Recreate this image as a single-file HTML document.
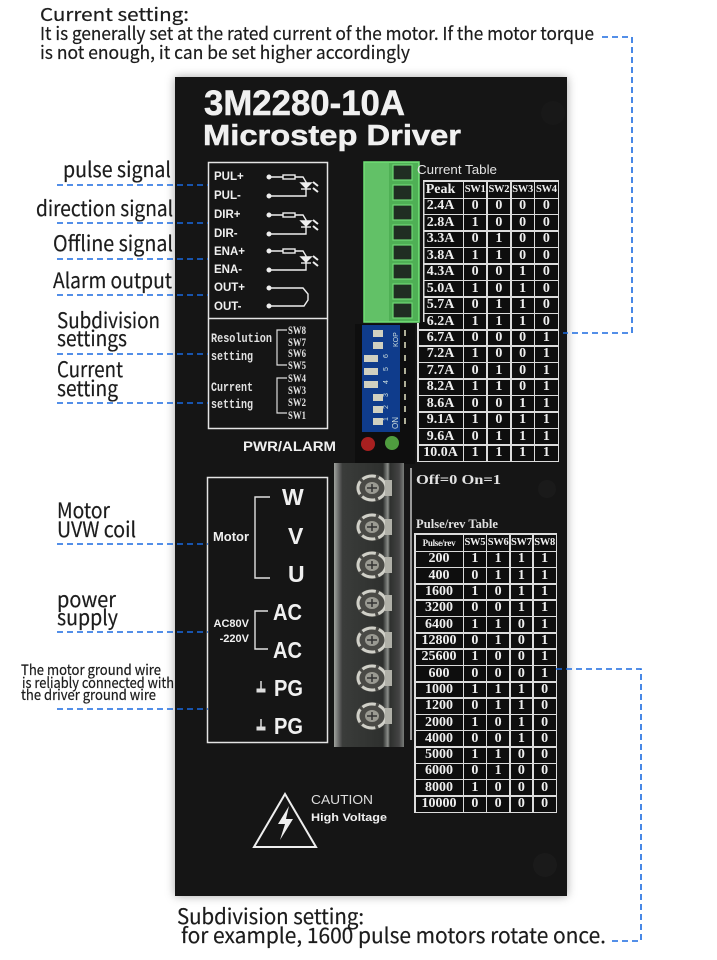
<!DOCTYPE html>
<html><head><meta charset="utf-8"><style>
html,body{margin:0;padding:0;background:#fff}
body{position:relative;width:717px;height:960px;overflow:hidden}
#panel{position:absolute;left:175px;top:77px;width:392px;height:819px;background:#151515;box-shadow:0 0 9px rgba(0,0,0,.35)}
.t{position:absolute;display:grid;background:#dcdcdc;padding:1.5px;gap:1.5px;box-sizing:border-box}
.t b{background:#0e0e0e;color:#efefef;font:bold 14px "Liberation Serif",serif;display:flex;align-items:center;justify-content:center;overflow:hidden;white-space:nowrap}
#ct{left:417px;top:180px;width:142px;height:282px;grid-template-columns:44px repeat(4,1fr);grid-template-rows:16px repeat(16,1fr)}
#pt{left:414px;top:533px;width:143px;height:280px;grid-template-columns:47px repeat(4,1fr);grid-template-rows:16px repeat(16,1fr)}
.t b.h{font-size:10.500px;letter-spacing:-.3px}
svg{position:absolute;left:0;top:0}
.n{font-family:"Noto Sans CJK SC","Liberation Sans",sans-serif;fill:#1c1c1c;stroke:#1c1c1c;stroke-width:.2}
.w{font-family:"Liberation Sans",sans-serif;font-weight:bold;fill:#f0f0f0}
.s{font-family:"Liberation Serif",serif;font-weight:bold;fill:#e2e2e2}
.d{stroke:#1a6ae0;stroke-width:1.6;stroke-dasharray:6 4;fill:none}
</style></head><body>
<div id="panel"></div>
<div class="t" id="ct">
<b>Peak</b><b class="h">SW1</b><b class="h">SW2</b><b class="h">SW3</b><b class="h">SW4</b>
<b>2.4A</b><b>0</b><b>0</b><b>0</b><b>0</b>
<b>2.8A</b><b>1</b><b>0</b><b>0</b><b>0</b>
<b>3.3A</b><b>0</b><b>1</b><b>0</b><b>0</b>
<b>3.8A</b><b>1</b><b>1</b><b>0</b><b>0</b>
<b>4.3A</b><b>0</b><b>0</b><b>1</b><b>0</b>
<b>5.0A</b><b>1</b><b>0</b><b>1</b><b>0</b>
<b>5.7A</b><b>0</b><b>1</b><b>1</b><b>0</b>
<b>6.2A</b><b>1</b><b>1</b><b>1</b><b>0</b>
<b>6.7A</b><b>0</b><b>0</b><b>0</b><b>1</b>
<b>7.2A</b><b>1</b><b>0</b><b>0</b><b>1</b>
<b>7.7A</b><b>0</b><b>1</b><b>0</b><b>1</b>
<b>8.2A</b><b>1</b><b>1</b><b>0</b><b>1</b>
<b>8.6A</b><b>0</b><b>0</b><b>1</b><b>1</b>
<b>9.1A</b><b>1</b><b>0</b><b>1</b><b>1</b>
<b>9.6A</b><b>0</b><b>1</b><b>1</b><b>1</b>
<b>10.0A</b><b>1</b><b>1</b><b>1</b><b>1</b>
</div>
<div class="t" id="pt">
<b class="h" style="font-size:9px">Pulse/rev</b><b class="h">SW5</b><b class="h">SW6</b><b class="h">SW7</b><b class="h">SW8</b>
<b>200</b><b>1</b><b>1</b><b>1</b><b>1</b>
<b>400</b><b>0</b><b>1</b><b>1</b><b>1</b>
<b>1600</b><b>1</b><b>0</b><b>1</b><b>1</b>
<b>3200</b><b>0</b><b>0</b><b>1</b><b>1</b>
<b>6400</b><b>1</b><b>1</b><b>0</b><b>1</b>
<b>12800</b><b>0</b><b>1</b><b>0</b><b>1</b>
<b>25600</b><b>1</b><b>0</b><b>0</b><b>1</b>
<b>600</b><b>0</b><b>0</b><b>0</b><b>1</b>
<b>1000</b><b>1</b><b>1</b><b>1</b><b>0</b>
<b>1200</b><b>0</b><b>1</b><b>1</b><b>0</b>
<b>2000</b><b>1</b><b>0</b><b>1</b><b>0</b>
<b>4000</b><b>0</b><b>0</b><b>1</b><b>0</b>
<b>5000</b><b>1</b><b>1</b><b>0</b><b>0</b>
<b>6000</b><b>0</b><b>1</b><b>0</b><b>0</b>
<b>8000</b><b>1</b><b>0</b><b>0</b><b>0</b>
<b>10000</b><b>0</b><b>0</b><b>0</b><b>0</b>
</div>
<svg width="717" height="960" viewBox="0 0 717 960">
<defs>
<g id="opto" fill="none" stroke="#eee" stroke-width="1.4">
<circle cx="269" cy="0" r="1.8" fill="#eee"/><circle cx="269" cy="19" r="1.8" fill="#eee"/>
<path d="M271 0H283M295 0H303L306 5V19H271"/><rect x="283" y="-2" width="12" height="4"/>
<path d="M301 6h10l-5 5z" fill="#eee"/><path d="M301 12h10" />
<path d="M313 5l5 4M313 11l5 4" stroke-width="2"/>
</g>
<g id="screw">
<ellipse cx="0" cy="0" rx="16" ry="14" fill="#4a4a46"/>
<ellipse cx="0" cy="0" rx="14" ry="12" fill="none" stroke="#d0d0c8" stroke-width="3" stroke-dasharray="14 3"/>
<ellipse cx="0" cy="0" rx="7" ry="6" fill="#9a9a92"/>
<path d="M-5 0H5M0 -4V4" stroke="#333" stroke-width="1.5"/>
<rect x="13" y="-8" width="7" height="16" fill="#b0b0a8"/>
</g>
<g id="gnd" stroke="#ddd" fill="#ddd"><path d="M0 -6V2" stroke-width="1.5"/><path d="M-4 2h8v3h-8z"/></g>
<linearGradient id="tb" x1="0" x2="1" y1="0" y2="0">
<stop offset="0" stop-color="#a0a39e"/><stop offset=".07" stop-color="#666"/><stop offset=".12" stop-color="#3a3c3a"/><stop offset=".7" stop-color="#2e302e"/><stop offset=".77" stop-color="#8d908c"/><stop offset=".8" stop-color="#2e302e"/><stop offset=".93" stop-color="#444"/><stop offset="1" stop-color="#7a7d7a"/>
</linearGradient>
</defs>

<!-- top text -->
<text class="n" x="40" y="21" font-size="18" textLength="149" lengthAdjust="spacingAndGlyphs">Current setting:</text>
<text class="n" x="40" y="40" font-size="18" textLength="554" lengthAdjust="spacingAndGlyphs">It is generally set at the rated current of the motor. If the motor torque</text>
<text class="n" x="40" y="59" font-size="18" textLength="370" lengthAdjust="spacingAndGlyphs">is not enough, it can be set higher accordingly</text>

<!-- left labels -->
<text class="n" x="63" y="177" font-size="21" textLength="108" lengthAdjust="spacingAndGlyphs">pulse signal</text>
<text class="n" x="36" y="216" font-size="21" textLength="137" lengthAdjust="spacingAndGlyphs">direction signal</text>
<text class="n" x="53" y="251" font-size="21" textLength="120" lengthAdjust="spacingAndGlyphs">Offline signal</text>
<text class="n" x="53" y="288" font-size="21" textLength="119" lengthAdjust="spacingAndGlyphs">Alarm output</text>
<text class="n" x="57" y="328" font-size="21" textLength="103" lengthAdjust="spacingAndGlyphs">Subdivision</text>
<text class="n" x="57" y="346" font-size="21" textLength="70" lengthAdjust="spacingAndGlyphs">settings</text>
<text class="n" x="57" y="377" font-size="21" textLength="66" lengthAdjust="spacingAndGlyphs">Current</text>
<text class="n" x="57" y="396" font-size="21" textLength="61" lengthAdjust="spacingAndGlyphs">setting</text>
<text class="n" x="57" y="518" font-size="21" textLength="53" lengthAdjust="spacingAndGlyphs">Motor</text>
<text class="n" x="57" y="537" font-size="21" textLength="79" lengthAdjust="spacingAndGlyphs">UVW coil</text>
<text class="n" x="57" y="607" font-size="21" textLength="59" lengthAdjust="spacingAndGlyphs">power</text>
<text class="n" x="57" y="625" font-size="21" textLength="61" lengthAdjust="spacingAndGlyphs">supply</text>
<text class="n" x="21" y="675" font-size="14.500" textLength="140" lengthAdjust="spacingAndGlyphs">The motor ground wire</text>
<text class="n" x="22" y="688" font-size="14.500" textLength="152" lengthAdjust="spacingAndGlyphs">is reliably connected with</text>
<text class="n" x="21" y="700" font-size="14.500" textLength="135" lengthAdjust="spacingAndGlyphs">the driver ground wire</text>

<!-- bottom text -->
<text class="n" x="177" y="924" font-size="21" textLength="187" lengthAdjust="spacingAndGlyphs">Subdivision setting:</text>
<text class="n" x="181" y="943" font-size="21" textLength="425" lengthAdjust="spacingAndGlyphs">for example, 1600 pulse motors rotate once.</text>

<!-- panel title -->
<text class="w" x="204" y="115" font-size="35" textLength="201" lengthAdjust="spacingAndGlyphs" stroke="#f0f0f0" stroke-width=".5">3M2280-10A</text>
<text class="w" x="203" y="145" font-size="29" textLength="258" lengthAdjust="spacingAndGlyphs" stroke="#f0f0f0" stroke-width=".5">Microstep Driver</text>

<!-- mounting holes -->
<circle cx="553" cy="113" r="12" fill="#181818"/><circle cx="547" cy="489" r="9" fill="#1a1a1a"/><circle cx="545" cy="865" r="12" fill="#1a1a1a"/>

<!-- box 1 -->
<rect x="208.500" y="162.500" width="119" height="156" fill="none" stroke="#e4e4e4" stroke-width="1.5"/>
<g class="w" font-size="11.500">
<text x="214" y="180">PUL+</text><text x="214" y="199">PUL-</text>
<text x="214" y="218">DIR+</text><text x="214" y="237">DIR-</text>
<text x="214" y="255">ENA+</text><text x="214" y="273">ENA-</text>
<text x="214" y="291">OUT+</text><text x="214" y="310">OUT-</text>
</g>
<use href="#opto" x="0" y="177"/><use href="#opto" x="0" y="215"/><use href="#opto" x="0" y="251"/>
<g fill="none" stroke="#eee" stroke-width="1.4"><circle cx="269" cy="288" r="1.8" fill="#eee"/><circle cx="269" cy="306" r="1.8" fill="#eee"/><path d="M271 288H303L308 294V300L304 306H271"/></g>

<!-- box 2 -->
<path d="M208.500 319V428.500H327.500V319" fill="none" stroke="#e4e4e4" stroke-width="1.5"/>
<g class="s" font-size="12.500" style="font-family:'Liberation Mono',monospace">
<text x="211" y="342" textLength="61" lengthAdjust="spacingAndGlyphs">Resolution</text>
<text x="211" y="360" textLength="42" lengthAdjust="spacingAndGlyphs">setting</text>
<text x="211" y="391" textLength="42" lengthAdjust="spacingAndGlyphs">Current</text>
<text x="211" y="408" textLength="42" lengthAdjust="spacingAndGlyphs">setting</text>
</g>
<g class="s" font-size="11.500">
<text x="288" y="334" textLength="18" lengthAdjust="spacingAndGlyphs">SW8</text><text x="288" y="346" textLength="18" lengthAdjust="spacingAndGlyphs">SW7</text><text x="288" y="357" textLength="18" lengthAdjust="spacingAndGlyphs">SW6</text><text x="288" y="369" textLength="18" lengthAdjust="spacingAndGlyphs">SW5</text>
<text x="288" y="382" textLength="18" lengthAdjust="spacingAndGlyphs">SW4</text><text x="288" y="394" textLength="18" lengthAdjust="spacingAndGlyphs">SW3</text><text x="288" y="406" textLength="18" lengthAdjust="spacingAndGlyphs">SW2</text><text x="288" y="419" textLength="18" lengthAdjust="spacingAndGlyphs">SW1</text>
</g>
<path d="M287 330H277V365H287M287 378H277V413H287" fill="none" stroke="#ddd" stroke-width="1.2"/>

<!-- green connector -->
<rect x="417" y="178" width="6" height="145" fill="#111"/>
<rect x="423" y="180" width="1.500" height="142" fill="#dcdcdc"/>
<rect x="364" y="162" width="55" height="160" fill="#62c167"/>
<rect x="364" y="162" width="55" height="160" fill="none" stroke="#6fe075" stroke-width="1.5"/>
<rect x="389" y="163" width="29" height="158" fill="#4fb055"/>
<g fill="#202d22" stroke="#6fd874" stroke-width="1.2">
<rect x="393" y="165" width="19" height="15"/><rect x="393" y="185" width="19" height="15"/>
<rect x="393" y="205" width="19" height="15"/><rect x="393" y="225" width="19" height="15"/>
<rect x="393" y="245" width="19" height="15"/><rect x="393" y="264" width="19" height="15"/>
<rect x="393" y="284" width="19" height="15"/><rect x="393" y="303" width="19" height="15"/>
</g>

<!-- DIP switch -->
<rect x="355" y="324" width="60" height="140" fill="#0e0e0e"/>
<rect x="362" y="325" width="38" height="107" fill="#0f3c8c"/>
<g fill="#d0d0c0">
<rect x="373" y="330" width="10" height="7"/><rect x="373" y="342" width="10" height="7"/>
<rect x="364" y="355" width="14" height="7"/><rect x="364" y="368" width="14" height="7"/><rect x="364" y="381" width="14" height="7"/>
<rect x="373" y="394" width="10" height="7"/><rect x="373" y="406" width="10" height="7"/><rect x="373" y="418" width="10" height="7"/>
</g>
<g fill="#b0b098"><rect x="404" y="330" width="2" height="6"/><rect x="404" y="342" width="2" height="6"/><rect x="404" y="355" width="2" height="6"/><rect x="404" y="368" width="2" height="6"/><rect x="404" y="381" width="2" height="6"/><rect x="404" y="394" width="2" height="6"/><rect x="404" y="406" width="2" height="6"/><rect x="404" y="418" width="2" height="6"/></g>
<g font-size="7" fill="#cdd" font-family="Liberation Sans,sans-serif">
<text x="388" y="358" transform="rotate(-90 388 358)">6</text><text x="388" y="371" transform="rotate(-90 388 371)">5</text><text x="388" y="384" transform="rotate(-90 388 384)">4</text><text x="388" y="397" transform="rotate(-90 388 397)">3</text><text x="388" y="409" transform="rotate(-90 388 409)">2</text><text x="388" y="421" transform="rotate(-90 388 421)">1</text>
</g>
<text x="398" y="429" font-size="8" fill="#cdd" font-family="Liberation Sans,sans-serif" transform="rotate(-90 398 429)">ON</text>
<text x="398" y="347" font-size="7" fill="#cdd" font-family="Liberation Sans,sans-serif" transform="rotate(-90 398 347)">KOP</text>

<!-- LEDs -->
<circle cx="368" cy="444" r="7" fill="#a82020"/><circle cx="392" cy="443" r="7" fill="#4f9c3f"/>
<text class="w" x="243" y="451" font-size="13.500" textLength="93" lengthAdjust="spacingAndGlyphs">PWR/ALARM</text>

<!-- box 3 -->
<rect x="207.500" y="477.500" width="120" height="265" fill="none" stroke="#e4e4e4" stroke-width="1.5"/>
<g class="w" font-size="23">
<text x="282" y="505">W</text><text x="288" y="544">V</text><text x="288" y="582">U</text>
<text x="273" y="620" textLength="29" lengthAdjust="spacingAndGlyphs">AC</text><text x="273" y="658" textLength="29" lengthAdjust="spacingAndGlyphs">AC</text>
<text x="274" y="696" textLength="29" lengthAdjust="spacingAndGlyphs">PG</text><text x="274" y="734" textLength="29" lengthAdjust="spacingAndGlyphs">PG</text>
</g>
<text class="w" x="213" y="541" font-size="12.500" textLength="36" lengthAdjust="spacingAndGlyphs">Motor</text>
<text class="w" x="249" y="627" font-size="11" text-anchor="end">AC80V</text>
<text class="w" x="249" y="642" font-size="11" text-anchor="end">-220V</text>
<path d="M270 497H255V578H270M268 611H255V649H268" fill="none" stroke="#e0e0e0" stroke-width="1.4"/>
<use href="#gnd" x="261" y="687"/><use href="#gnd" x="261" y="725"/>

<!-- terminal block -->
<rect x="334" y="463" width="70" height="284" fill="url(#tb)"/>
<use href="#screw" x="372" y="488"/><use href="#screw" x="372" y="527"/><use href="#screw" x="372" y="565"/><use href="#screw" x="372" y="603"/><use href="#screw" x="372" y="640"/><use href="#screw" x="372" y="678"/><use href="#screw" x="372" y="716"/>
<rect x="410" y="468" width="2" height="272" fill="#999"/>

<!-- table captions -->
<text class="s" x="417" y="174" font-size="13" textLength="80" lengthAdjust="spacingAndGlyphs" style="font-family:'Liberation Sans',sans-serif;font-weight:normal">Current Table</text>
<text class="s" x="416" y="484" font-size="14" textLength="85" lengthAdjust="spacingAndGlyphs">Off=0 On=1</text>
<text class="s" x="416" y="528" font-size="13" textLength="82" lengthAdjust="spacingAndGlyphs">Pulse/rev Table</text>

<!-- caution -->
<path d="M285 794L316 847H254Z" fill="none" stroke="#eee" stroke-width="2"/>
<path d="M289 806L278 824H285L280 840L293 819H286Z" fill="#eee"/>
<text x="311" y="804" font-size="12.500" fill="#ddd" font-family="Liberation Sans,sans-serif" textLength="62" lengthAdjust="spacingAndGlyphs">CAUTION</text>
<text class="w" x="311" y="821" font-size="11" textLength="76" lengthAdjust="spacingAndGlyphs">High Voltage</text>

<!-- connectors -->
<g class="d">
<path d="M57 185H208M57 223H208M57 259H208M57 295H208M57 354H208M57 403H208M57 544H208M57 632H208M57 709H208"/>
<path d="M602 37H632V333H563"/>
<path d="M556 669H641V941H612"/>
</g>
</svg>
</body></html>
